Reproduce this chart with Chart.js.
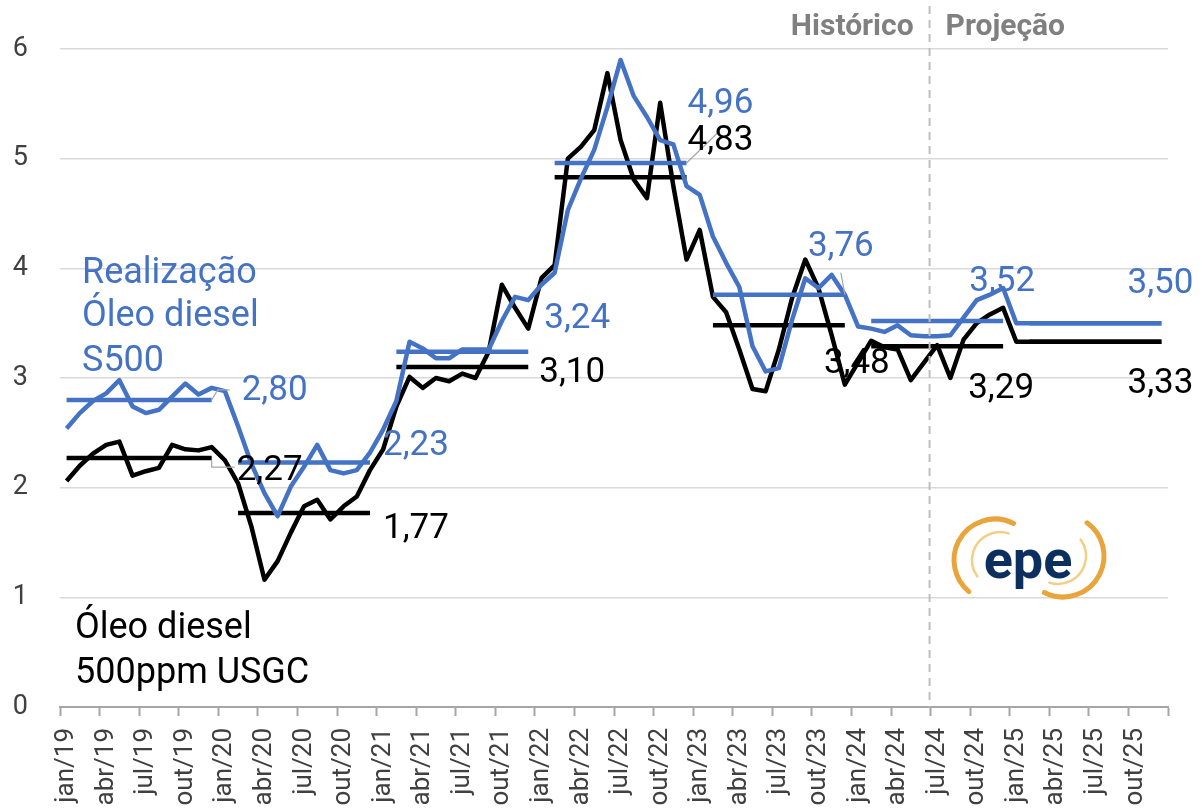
<!DOCTYPE html>
<html>
<head>
<meta charset="utf-8">
<script src="https://cdn.jsdelivr.net/npm/chart.js@4.4.1/dist/chart.umd.min.js"></script>
<style>
  html, body { margin: 0; padding: 0; background: #ffffff; }
  #wrap { position: relative; width: 1202px; height: 810px; }
</style>
</head>
<body>
<div id="wrap"><canvas id="c" width="1202" height="810"></canvas></div>
<script>
// ---------- DATA ----------
const monthNames = ['jan','fev','mar','abr','mai','jun','jul','ago','set','out','nov','dez'];
const years = ['19','20','21','22','23','24','25'];

// Óleo diesel 500ppm USGC (black), monthly
const usgc2019 = [2.06, 2.20, 2.31, 2.39, 2.42, 2.11, 2.15, 2.18, 2.39, 2.35, 2.34, 2.37];
const usgc2020 = [2.25, 2.04, 1.65, 1.16, 1.33, 1.59, 1.83, 1.89, 1.71, 1.83, 1.92, 2.16];
const usgc2021 = [2.35, 2.74, 3.01, 2.91, 3.00, 2.97, 3.04, 3.00, 3.24, 3.85, 3.64, 3.45];
const usgc2022 = [3.91, 4.03, 5.00, 5.11, 5.26, 5.78, 5.17, 4.81, 4.64, 5.51, 4.75, 4.08];
const usgc2023 = [4.35, 3.74, 3.60, 3.26, 2.90, 2.88, 3.26, 3.73, 4.08, 3.82, 3.39, 2.94];
const usgc2024 = [3.14, 3.34, 3.28, 3.26, 2.98, 3.14, 3.30, 3.00, 3.35, 3.50, 3.58, 3.64];
const usgc2025 = [3.33, 3.33, 3.33, 3.33, 3.33, 3.33, 3.33, 3.33, 3.33, 3.33, 3.33, 3.33];

// Realização Óleo diesel S500 (blue), monthly
const real2019 = [2.54, 2.68, 2.79, 2.86, 2.98, 2.74, 2.68, 2.71, 2.83, 2.95, 2.85, 2.91];
const real2020 = [2.88, 2.56, 2.22, 1.95, 1.74, 2.01, 2.19, 2.39, 2.16, 2.13, 2.16, 2.32];
const real2021 = [2.53, 2.79, 3.33, 3.27, 3.18, 3.18, 3.26, 3.26, 3.26, 3.52, 3.74, 3.71];
const real2022 = [3.85, 3.96, 4.53, 4.82, 5.08, 5.47, 5.90, 5.57, 5.38, 5.17, 5.13, 4.75];
const real2023 = [4.67, 4.29, 4.05, 3.83, 3.29, 3.06, 3.09, 3.53, 3.91, 3.82, 3.94, 3.76];
const real2024 = [3.47, 3.45, 3.42, 3.48, 3.39, 3.38, 3.38, 3.39, 3.55, 3.71, 3.76, 3.82];
const real2025 = [3.50, 3.50, 3.50, 3.50, 3.50, 3.50, 3.50, 3.50, 3.50, 3.50, 3.50, 3.50];

// Annual averages
const usgcAvg = [2.27, 1.77, 3.10, 4.83, 3.48, 3.29, 3.33];
const realAvg = [2.80, 2.23, 3.24, 4.96, 3.76, 3.52, 3.50];

const yTicks = [0, 1, 2, 3, 4, 5, 6];
const firstProjectionIndex = 66; // jul/24

// ---------- BUILD ----------
const categories = [];
years.forEach(y => monthNames.forEach(m => categories.push(m + '/' + y)));
const usgc = [].concat(usgc2019, usgc2020, usgc2021, usgc2022, usgc2023, usgc2024, usgc2025);
const real = [].concat(real2019, real2020, real2021, real2022, real2023, real2024, real2025);

function avgSeries(avgs) {
  const out = [];
  avgs.forEach((v, yi) => {
    for (let m = 0; m < 12; m++) {
      out.push((m === 0 && yi > 0) ? null : v);
    }
  });
  return out;
}

const BLUE = '#4472C4';
const BLACK = '#000000';
const FONT = "Roboto, 'DejaVu Sans', sans-serif";
const LW = 4.5;

// label placement styling (pixel offsets from the end point of each annual line)
const realLabelStyle = [
  { dx: 30, dy: -9, align: 'left', leader: [[0,0],[6,-10],[18,-10]] },
  { dx: 13, dy: -16, align: 'left' },
  { dx: 16, dy: -32, align: 'left' },
  { dx: 1, dy: -59, align: 'left' },
  { dx: -4, dy: -47, align: 'center', leader: [[0,0],[-4,-22]] },
  { dx: -1, dy: -39, align: 'center' },
  { dx: -1, dy: -39, align: 'center' }
];
const usgcLabelStyle = [
  { dx: 25, dy: 13, align: 'left', leader: [[0,2],[0,9],[23,9]] },
  { dx: 13, dy: 16, align: 'left' },
  { dx: 11, dy: 6, align: 'left' },
  { dx: 1, dy: -36, align: 'left', leaderFromOther: true },
  { dx: 12, dy: 39, align: 'center' },
  { dx: -2, dy: 43, align: 'center' },
  { dx: -1, dy: 42, align: 'center' }
];

const fmt = v => v.toFixed(2).replace('.', ',');

const overlayPlugin = {
  id: 'overlay',
  afterDatasetsDraw(chart) {
    const ctx = chart.ctx;
    const xs = chart.scales.x, ys = chart.scales.y;
    const area = chart.chartArea;

    // dashed divider historic / projection
    const xDiv = (xs.getPixelForValue(firstProjectionIndex - 1) + xs.getPixelForValue(firstProjectionIndex)) / 2 - 1;
    ctx.save();
    ctx.strokeStyle = '#bfbfbf';
    ctx.lineWidth = 2;
    ctx.setLineDash([8, 6]);
    ctx.beginPath();
    ctx.moveTo(xDiv, 6);
    ctx.lineTo(xDiv, area.bottom);
    ctx.stroke();
    ctx.setLineDash([]);

    ctx.fillStyle = '#808080';
    ctx.font = 'bold 30px ' + FONT;
    ctx.textBaseline = 'alphabetic';
    ctx.textAlign = 'right';
    ctx.fillText('Histórico', xDiv - 16, 35);
    ctx.textAlign = 'left';
    ctx.fillText('Projeção', xDiv + 16, 35);

    // value labels
    function drawLabels(avgs, styles, color, otherAvgs) {
      avgs.forEach((v, yi) => {
        const endIdx = yi * 12 + 11;
        const ax = xs.getPixelForValue(endIdx);
        const ay = ys.getPixelForValue(v);
        const st = styles[yi];
        ctx.strokeStyle = '#a6a6a6';
        ctx.lineWidth = 1.2;
        if (st.leader) {
          ctx.beginPath();
          st.leader.forEach((p, k) => {
            if (k === 0) ctx.moveTo(ax + p[0], ay + p[1]); else ctx.lineTo(ax + p[0], ay + p[1]);
          });
          ctx.stroke();
        }
        if (st.leaderFromOther) {
          const oy = ys.getPixelForValue(otherAvgs[yi]);
          ctx.beginPath();
          ctx.moveTo(ax, oy);
          ctx.lineTo(ax + 33, oy - 32);
          ctx.stroke();
        }
        ctx.fillStyle = color;
        ctx.font = '35px ' + FONT;
        ctx.textAlign = st.align;
        ctx.textBaseline = 'middle';
        ctx.fillText(fmt(v), ax + st.dx, ay + st.dy);
      });
    }
    drawLabels(usgcAvg, usgcLabelStyle, BLACK, realAvg);
    drawLabels(realAvg, realLabelStyle, BLUE, usgcAvg);

    // series names
    ctx.textAlign = 'left';
    ctx.textBaseline = 'alphabetic';
    ctx.font = '36px ' + FONT;
    ctx.fillStyle = BLUE;
    ctx.fillText('Realização', 82, 283);
    ctx.fillText('Óleo diesel', 82, 326);
    ctx.fillText('S500', 82, 371);
    ctx.fillStyle = BLACK;
    ctx.fillText('Óleo diesel', 75, 638);
    ctx.fillText('500ppm USGC', 75, 683);

    // epe logo
    ctx.lineCap = 'round';
    ctx.strokeStyle = '#e9a43c';
    ctx.lineWidth = 5;
    ctx.beginPath();
    ctx.arc(995, 560, 41, -0.35 * Math.PI, 0.72 * Math.PI, true);
    ctx.stroke();
    ctx.beginPath();
    ctx.arc(1063, 556, 41, 0.65 * Math.PI, -0.3 * Math.PI, true);
    ctx.stroke();
    ctx.strokeStyle = '#f3cf86';
    ctx.lineWidth = 2.5;
    ctx.beginPath();
    ctx.arc(1000, 560, 28, -0.4 * Math.PI, 0.8 * Math.PI, true);
    ctx.stroke();
    ctx.beginPath();
    ctx.arc(1058, 556, 28, 0.6 * Math.PI, -0.2 * Math.PI, true);
    ctx.stroke();
    ctx.fillStyle = '#0d2f5e';
    ctx.font = 'bold 54px ' + FONT;
    ctx.textAlign = 'center';
    ctx.textBaseline = 'alphabetic';
    ctx.fillText('epe', 1028, 578);
    ctx.restore();
  }
};

new Chart(document.getElementById('c'), {
  type: 'line',
  data: {
    labels: categories,
    datasets: [
      { label: 'Realização Óleo diesel S500', data: real, borderColor: BLUE, borderWidth: LW, pointRadius: 0, tension: 0, order: 0 },
      { label: 'Média anual Realização', data: avgSeries(realAvg), borderColor: BLUE, borderWidth: LW, pointRadius: 0, spanGaps: false, order: 1 },
      { label: 'Média anual USGC', data: avgSeries(usgcAvg), borderColor: BLACK, borderWidth: LW, pointRadius: 0, spanGaps: false, order: 2 },
      { label: 'Óleo diesel 500ppm USGC', data: usgc, borderColor: BLACK, borderWidth: LW, pointRadius: 0, tension: 0, order: 3 }
    ]
  },
  options: {
    responsive: false,
    animation: false,
    events: [],
    layout: { padding: { top: 49, right: 34, left: 0, bottom: 0 } },
    plugins: { legend: { display: false }, tooltip: { enabled: false } },
    elements: { line: { borderJoinStyle: 'round', borderCapStyle: 'butt' } },
    scales: {
      x: {
        type: 'category',
        offset: true,
        afterFit: s => { s.height = 103; s.paddingLeft = 0; s.paddingRight = 0; },
        border: { display: true, color: '#a6a6a6', width: 2 },
        grid: {
          offset: true,
          drawOnChartArea: false,
          drawTicks: true,
          tickLength: 9,
          tickWidth: 2,
          tickColor: c => (c.type === 'tick' ? (c.index % 3 === 0 ? '#a6a6a6' : 'rgba(0,0,0,0)') : '#a6a6a6')
        },
        ticks: {
          autoSkip: false,
          maxRotation: 90,
          minRotation: 90,
          padding: 12,
          color: '#404040',
          font: { family: FONT, size: 26 },
          callback: function(val, idx) { return idx % 3 === 0 ? this.getLabelForValue(val) : ''; }
        }
      },
      y: {
        min: 0,
        max: 6,
        afterFit: s => { s.width = 60; },
        afterBuildTicks: s => { s.ticks = yTicks.map(v => ({ value: v })); },
        border: { display: false },
        grid: { color: '#d9d9d9', lineWidth: 1.5, drawTicks: false },
        ticks: {
          padding: 32,
          color: '#404040',
          font: { family: FONT, size: 27 },
          callback: v => String(v)
        }
      }
    }
  },
  plugins: [overlayPlugin]
});
</script>
</body>
</html>
